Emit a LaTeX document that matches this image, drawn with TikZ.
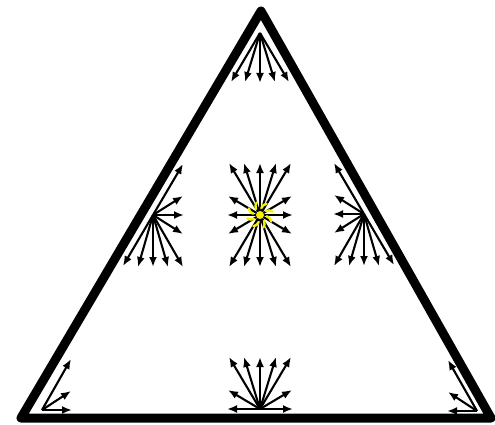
\documentclass[tikz,border=0pt]{standalone}
\usetikzlibrary{arrows.meta,calc}
\begin{document}
\begin{tikzpicture}[x=1pt,y=-1pt,
  vec/.style={line width=2.1pt,-{Latex[length=10pt,width=8pt]}},
  edgeline/.style={line width=9pt,line join=round},
  sunray/.style={line width=2.4pt,color=sunyellow,line cap=round}]
\definecolor{sunyellow}{RGB}{245,240,0}
\useasboundingbox (0,0) rectangle (495,425);
% triangle
\coordinate (A) at (261,11);
\coordinate (B) at (21,418);
\coordinate (C) at (491,418);
\draw[edgeline] (A) -- (B) -- (C) -- cycle;
% cluster origins
\coordinate (ctr) at (260,215);
\coordinate (le) at (153,215);
\coordinate (re) at (364,214);
\coordinate (bm) at (260,409);
\coordinate (ap) at (260,33);
\coordinate (bl) at (42,410);
\coordinate (br) at (477,411);
% interior point: full star
\foreach \dx/\dy in {33/0,32/-19,31/-52,16/-52,0/-52,-16/-52,-31/-52,-32/-19,-33/0,-32/19,-31/52,-16/52,0/52,16/52,31/52,32/19}
  \draw[vec] (ctr) -- ++(\dx,\dy);
% yellow sun on top of the star centre
\fill[sunyellow] (ctr) circle (4);
\foreach \a in {10,55,...,325}
  \draw[sunray] ($(ctr)+(\a:7)$) to[bend left=25] ($(ctr)+(\a+20:13)$);
% left edge
\foreach \dx/\dy in {30/-51,30/-19,31/0,30/19,30/52,15/52,0/52,-15/52,-30/51}
  \draw[vec] (le) -- ++(\dx,\dy);
% right edge
\foreach \dx/\dy in {-30/-51,-30/-19,-31/0,-30/19,-30/52,-15/52,0/52,15/52,30/51}
  \draw[vec] (re) -- ++(\dx,\dy);
% bottom edge
\foreach \dx/\dy in {33/0,32/-19,31/-52,16/-52,0/-52,-16/-52,-31/-52,-32/-19,-33/0}
  \draw[vec] (bm) -- ++(\dx,\dy);
% apex
\foreach \dx/\dy in {0/50,15/49,-15/49,29/49,-29/49}
  \draw[vec] (ap) -- ++(\dx,\dy);
% bottom-left corner
\foreach \dx/\dy in {30/0,29/-19,29/-51}
  \draw[vec] (bl) -- ++(\dx,\dy);
% bottom-right corner
\foreach \dx/\dy in {-30/0,-29/-19,-29/-51}
  \draw[vec] (br) -- ++(\dx,\dy);
\end{tikzpicture}
\end{document}
